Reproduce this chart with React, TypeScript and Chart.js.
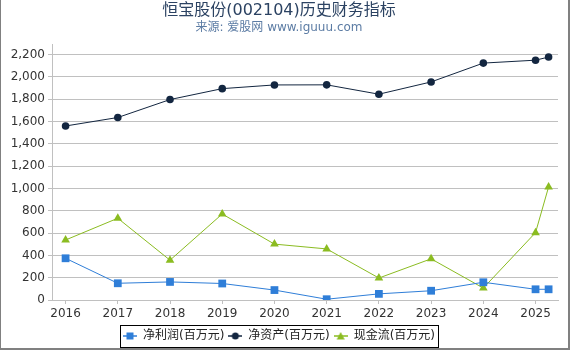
import React, { useEffect, useRef } from "react";
import { Chart, registerables } from "chart.js";

Chart.register(...registerables);

const years = [2016, 2017, 2018, 2019, 2020, 2021, 2022, 2023, 2024, 2025, 2025.25];
const netProfit = [374, 150, 162, 148, 89, 7, 55, 83, 159, 96, 96];
const netAssets = [1560, 1636, 1797, 1895, 1928, 1929, 1845, 1955, 2124, 2150, 2178];
const cashFlow = [538, 733, 357, 771, 501, 458, 197, 369, 107, 604, 1014];
const seriesNames = ["净利润(百万元)", "净资产(百万元)", "现金流(百万元)"];
const colors = ["#2f7ed8", "#132640", "#8bbc21"];
const markerStyles = ["rect", "circle", "triangle"];
const yTicks = [0, 200, 400, 600, 800, 1000, 1200, 1400, 1600, 1800, 2000, 2200];
const xTicks = [2016, 2017, 2018, 2019, 2020, 2021, 2022, 2023, 2024, 2025];

const FONT = "'DejaVu Sans', 'Noto Sans CJK SC', sans-serif";

function makeLegendIcon(color: string, style: string) {
  const c = document.createElement("canvas");
  c.width = 14;
  c.height = 10;
  const ctx = c.getContext("2d")!;
  ctx.strokeStyle = color;
  ctx.lineWidth = 1.5;
  ctx.beginPath();
  ctx.moveTo(0, 5);
  ctx.lineTo(14, 5);
  ctx.stroke();
  ctx.fillStyle = color;
  ctx.beginPath();
  if (style === "rect") ctx.rect(3.5, 1.5, 7, 7);
  else if (style === "circle") ctx.arc(7, 5, 3.5, 0, Math.PI * 2);
  else {
    ctx.moveTo(7, 1);
    ctx.lineTo(11, 8.5);
    ctx.lineTo(3, 8.5);
    ctx.closePath();
  }
  ctx.fill();
  return c;
}

const framePlugin = {
  id: "frame",
  beforeDraw(chart: any) {
    const ctx = chart.ctx;
    ctx.save();
    ctx.fillStyle = "#ffffff";
    ctx.fillRect(0, 0, chart.width, chart.height);
    ctx.restore();
  },
  afterDraw(chart: any) {
    const ctx = chart.ctx;
    const lg = chart.legend;
    ctx.save();
    if (lg && lg.legendHitBoxes && lg.legendHitBoxes.length) {
      const hb = lg.legendHitBoxes;
      let l = Infinity, r = -Infinity, t = Infinity, b = -Infinity;
      hb.forEach((h: any) => {
        l = Math.min(l, h.left);
        r = Math.max(r, h.left + h.width);
        t = Math.min(t, h.top);
        b = Math.max(b, h.top + h.height);
      });
      ctx.strokeStyle = "#000000";
      ctx.lineWidth = 1;
      ctx.strokeRect(Math.round(l - 3) + 0.5, Math.round(t - 5) + 0.5, Math.round(r - l + 6), Math.round(b - t + 10));
    }
    ctx.fillStyle = "#808080";
    ctx.fillRect(0, 0, 1, chart.height);
    ctx.fillRect(chart.width - 2, 0, 2, chart.height);
    ctx.fillRect(0, chart.height - 2, chart.width, 2);
    ctx.restore();
  },
};

export default function App() {
  const ref = useRef<HTMLCanvasElement>(null);
  useEffect(() => {
    document.body.style.margin = "0";
    const values = [netProfit, netAssets, cashFlow];
    const datasets = seriesNames.map((name, i) => ({
      label: name,
      data: years.map((x, j) => ({ x, y: values[i][j] })),
      borderColor: colors[i],
      backgroundColor: colors[i],
      borderWidth: 1,
      pointStyle: markerStyles[i] as any,
      pointRadius: i === 0 ? 5.5 : i === 1 ? 3.8 : 5,
      pointBorderWidth: 0,
      tension: 0,
    }));
    const icons = seriesNames.map((_, i) => makeLegendIcon(colors[i], markerStyles[i]));
    const chart = new Chart(ref.current!, {
      type: "line",
      data: { datasets },
      plugins: [framePlugin],
      options: {
        animation: false,
        responsive: false,
        maintainAspectRatio: false,
        layout: { padding: { left: 0, right: 12, top: 0, bottom: -2 } },
        plugins: {
          title: {
            display: true,
            text: "恒宝股份(002104)历史财务指标",
            color: "#2b4262",
            font: { family: FONT, size: 16, weight: "normal", lineHeight: 1.0 },
            padding: { top: 3, bottom: 0 },
          },
          subtitle: {
            display: true,
            text: "来源: 爱股网 www.iguuu.com",
            color: "#5c7ca4",
            font: { family: FONT, size: 12, weight: "normal", lineHeight: 1.2 },
            padding: { top: 2, bottom: 9.5 },
          },
          legend: {
            position: "bottom",
            labels: {
              usePointStyle: true,
              pointStyleWidth: 14,
              boxHeight: 10,
              padding: 4,
              color: "#222222",
              font: { family: FONT, size: 12 },
              generateLabels: (ch: any) =>
                ch.data.datasets.map((d: any, i: number) => ({
                  text: d.label,
                  pointStyle: icons[i],
                  fillStyle: colors[i],
                  strokeStyle: colors[i],
                  lineWidth: 0,
                  hidden: false,
                  datasetIndex: i,
                  fontColor: "#222222",
                })),
            },
          },
          tooltip: { enabled: false },
        },
        scales: {
          x: {
            type: "linear",
            min: 2015.74,
            max: 2025.43,
            afterBuildTicks: (s: any) => {
              s.ticks = xTicks.map((v) => ({ value: v }));
            },
            ticks: {
              color: "#333333",
              font: { family: FONT, size: 12 },
              maxRotation: 0,
              autoSkip: false,
              padding: 3,
              callback: (v: any) => String(v),
            },
            grid: { drawOnChartArea: false, drawTicks: true, tickLength: 4, color: "#c0c0c0" },
            border: { color: "#c0c0c0" },
            afterFit: (s: any) => {
              s.height = 26;
            },
          },
          y: {
            type: "linear",
            min: 0,
            max: 2287,
            afterBuildTicks: (s: any) => {
              s.ticks = yTicks.map((v) => ({ value: v }));
            },
            ticks: {
              color: "#333333",
              font: { family: FONT, size: 12 },
              padding: 3,
              callback: (v: any) => Number(v).toLocaleString("en-US"),
            },
            grid: { color: "#c0c0c0", tickLength: 4 },
            border: { color: "#c0c0c0" },
            afterFit: (s: any) => {
              s.width = 52;
            },
          },
        },
      } as any,
    });
    return () => chart.destroy();
  }, []);
  return (
    <div style={{ width: 570, height: 350 }}>
      <canvas ref={ref} width={570} height={350} style={{ display: "block", width: 570, height: 350 }} />
    </div>
  );
}
